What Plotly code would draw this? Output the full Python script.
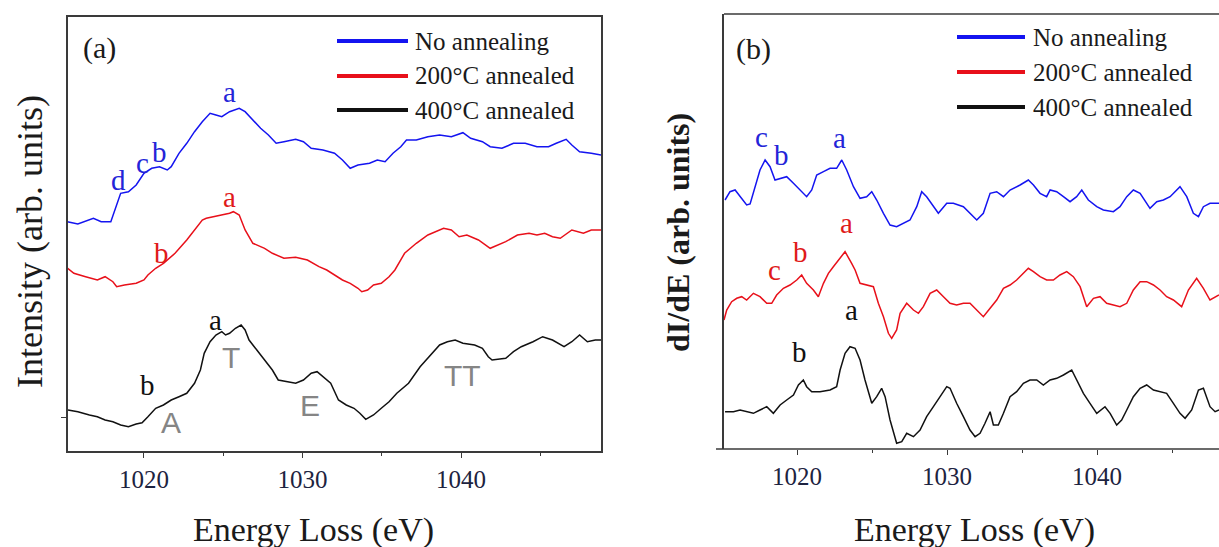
import plotly.graph_objects as go

# ---------------- Panel (a): EELS intensity ----------------
a_blue_E = [1015.17, 1015.83, 1016.81, 1017.30, 1017.91, 1018.53, 1019.02, 1019.51, 1020.0, 1020.49,
            1020.98, 1021.47, 1021.72, 1022.21, 1022.70, 1023.19, 1023.68, 1024.17, 1024.54, 1024.91,
            1025.40, 1026.01, 1026.38, 1026.87, 1027.36, 1027.85, 1028.34, 1028.83, 1029.57, 1030.06,
            1030.55, 1031.29, 1032.02, 1032.52, 1033.01, 1033.50, 1034.23, 1034.72, 1035.21, 1035.71,
            1036.20, 1036.56, 1037.18, 1037.91, 1038.65, 1039.39, 1040.12, 1040.61, 1041.35, 1041.84,
            1042.58, 1043.31, 1044.05, 1044.79, 1045.52, 1046.01, 1046.63, 1046.99, 1047.48, 1048.22, 1048.83]
a_blue_I = [2.293, 2.27, 2.327, 2.293, 2.293, 2.577, 2.593, 2.66, 2.777, 2.827,
            2.843, 2.81, 2.843, 2.977, 3.077, 3.193, 3.293, 3.377, 3.36, 3.343,
            3.393, 3.427, 3.393, 3.31, 3.227, 3.16, 3.077, 3.093, 3.117, 3.093,
            3.027, 3.01, 2.977, 2.91, 2.827, 2.86, 2.877, 2.91, 2.893, 2.977,
            3.043, 3.11, 3.11, 3.143, 3.16, 3.143, 3.183, 3.127, 3.093, 3.043,
            3.027, 3.077, 3.077, 3.043, 3.043, 3.077, 3.117, 3.06, 2.993, 2.977, 2.96]

a_red_E = [1015.17, 1015.58, 1016.32, 1017.06, 1017.55, 1018.04, 1018.28, 1018.77, 1019.51, 1020.0,
           1020.25, 1020.74, 1021.23, 1021.96, 1022.70, 1023.19, 1023.68, 1023.93, 1024.42, 1024.91,
           1025.40, 1025.64, 1026.01, 1026.38, 1026.87, 1027.61, 1028.10, 1028.83, 1029.57, 1030.31,
           1031.04, 1031.53, 1032.02, 1032.52, 1033.01, 1033.50, 1033.74, 1034.11, 1034.48, 1034.97,
           1035.46, 1035.83, 1036.44, 1037.18, 1037.91, 1038.90, 1039.39, 1039.88, 1040.37, 1041.10,
           1041.84, 1042.33, 1042.82, 1043.56, 1044.29, 1044.79, 1045.28, 1045.77, 1046.26, 1046.99,
           1047.72, 1048.22, 1048.83]
a_red_I = [1.83, 1.777, 1.743, 1.71, 1.743, 1.693, 1.643, 1.66, 1.677, 1.71,
           1.76, 1.827, 1.877, 1.977, 2.11, 2.21, 2.31, 2.327, 2.343, 2.36,
           2.377, 2.393, 2.36, 2.21, 2.077, 2.027, 1.977, 1.927, 1.937, 1.91,
           1.843, 1.81, 1.76, 1.71, 1.677, 1.627, 1.593, 1.61, 1.66, 1.677,
           1.743, 1.81, 1.977, 2.077, 2.16, 2.227, 2.21, 2.143, 2.16, 2.11,
           2.027, 2.06, 2.093, 2.16, 2.177, 2.16, 2.177, 2.143, 2.127, 2.21,
           2.177, 2.21, 2.21]

a_black_E = [1015.21, 1015.83, 1016.56, 1017.06, 1017.55, 1018.04, 1018.53, 1019.02, 1019.51, 1019.88,
             1020.25, 1020.74, 1021.23, 1021.72, 1022.21, 1022.70, 1023.19, 1023.56, 1023.80, 1024.17,
             1024.54, 1024.91, 1025.15, 1025.40, 1025.77, 1026.13, 1026.38, 1026.63, 1027.12, 1027.61,
             1028.10, 1028.47, 1028.96, 1029.57, 1030.06, 1030.55, 1030.92, 1031.29, 1031.78, 1032.27,
             1032.76, 1033.25, 1033.62, 1033.99, 1034.48, 1034.97, 1035.46, 1035.95, 1036.69, 1037.42,
             1038.16, 1038.65, 1039.14, 1039.63, 1040.12, 1040.86, 1041.35, 1041.72, 1041.96, 1042.45,
             1042.82, 1043.31, 1043.80, 1044.54, 1045.15, 1045.77, 1046.50, 1046.99, 1047.48, 1047.97,
             1048.47, 1048.83]
a_black_I = [0.41, 0.393, 0.36, 0.343, 0.31, 0.293, 0.26, 0.243, 0.27, 0.283,
             0.343, 0.427, 0.46, 0.51, 0.543, 0.577, 0.677, 0.81, 0.977, 1.093,
             1.16, 1.193, 1.16, 1.177, 1.227, 1.26, 1.21, 1.11, 1.01, 0.91,
             0.81, 0.71, 0.693, 0.677, 0.71, 0.777, 0.793, 0.743, 0.677, 0.51,
             0.46, 0.427, 0.377, 0.317, 0.36, 0.427, 0.493, 0.577, 0.677, 0.843,
             0.977, 1.06, 1.093, 1.11, 1.077, 1.06, 1.027, 0.943, 0.91, 0.917,
             0.927, 0.993, 1.043, 1.093, 1.143, 1.11, 1.043, 1.093, 1.16, 1.093,
             1.11, 1.11]

# ---------------- Panel (b): derivative dI/dE ----------------
b_blue_E = [1015.2, 1015.53, 1015.87, 1016.2, 1016.64, 1016.87, 1017.2, 1017.53, 1017.87, 1018.2,
            1018.53, 1018.87, 1019.31, 1019.76, 1020.2, 1020.64, 1020.98, 1021.31, 1021.76, 1022.2,
            1022.64, 1022.98, 1023.31, 1023.76, 1024.2, 1024.64, 1024.98, 1025.31, 1025.76, 1026.2,
            1026.64, 1027.09, 1027.53, 1027.98, 1028.31, 1028.64, 1029.09, 1029.42, 1029.98, 1030.42,
            1031.09, 1031.53, 1031.98, 1032.42, 1032.87, 1033.31, 1033.76, 1034.2, 1034.87, 1035.42,
            1035.76, 1036.2, 1036.64, 1036.87, 1037.31, 1037.76, 1038.2, 1038.64, 1038.98, 1039.42,
            1039.98, 1040.42, 1041.09, 1041.53, 1041.98, 1042.42, 1042.87, 1043.53, 1043.98, 1044.42,
            1044.87, 1045.53, 1045.98, 1046.42, 1046.76, 1047.09, 1047.53, 1048.13]
b_blue_D = [2.49, 2.573, 2.59, 2.523, 2.44, 2.45, 2.623, 2.79, 2.89, 2.823,
            2.69, 2.707, 2.723, 2.657, 2.59, 2.523, 2.59, 2.74, 2.773, 2.807,
            2.807, 2.89, 2.79, 2.623, 2.507, 2.523, 2.573, 2.49, 2.357, 2.24,
            2.223, 2.257, 2.29, 2.423, 2.573, 2.523, 2.423, 2.357, 2.457, 2.457,
            2.423, 2.357, 2.29, 2.357, 2.557, 2.573, 2.523, 2.59, 2.64, 2.69,
            2.64, 2.557, 2.523, 2.59, 2.573, 2.523, 2.473, 2.523, 2.59, 2.49,
            2.423, 2.39, 2.373, 2.423, 2.523, 2.59, 2.557, 2.407, 2.473, 2.49,
            2.523, 2.623, 2.523, 2.357, 2.323, 2.423, 2.457, 2.457]

b_red_E = [1015.13, 1015.31, 1015.64, 1015.98, 1016.31, 1016.64, 1017.09, 1017.53, 1017.98, 1018.31,
           1018.64, 1019.09, 1019.53, 1019.98, 1020.31, 1020.64, 1021.09, 1021.42, 1021.76, 1022.09,
           1022.42, 1022.76, 1023.2, 1023.64, 1023.87, 1024.2, 1024.64, 1025.09, 1025.42, 1025.76,
           1026.09, 1026.31, 1026.64, 1026.87, 1027.31, 1027.76, 1028.09, 1028.42, 1028.87, 1029.31,
           1029.76, 1030.2, 1030.64, 1031.09, 1031.53, 1031.98, 1032.42, 1032.87, 1033.31, 1033.76,
           1034.2, 1034.64, 1035.09, 1035.42, 1035.76, 1036.2, 1036.64, 1037.09, 1037.53, 1037.98,
           1038.42, 1038.87, 1039.31, 1039.76, 1040.2, 1040.64, 1041.09, 1041.53, 1041.98, 1042.42,
           1042.87, 1043.31, 1043.76, 1044.2, 1044.64, 1045.09, 1045.64, 1046.09, 1046.64, 1047.09,
           1047.53, 1048.13]
b_red_D = [1.29, 1.39, 1.473, 1.507, 1.523, 1.49, 1.557, 1.523, 1.457, 1.457,
           1.54, 1.607, 1.64, 1.69, 1.74, 1.657, 1.59, 1.523, 1.657, 1.757,
           1.823, 1.89, 1.973, 1.857, 1.79, 1.657, 1.64, 1.623, 1.457, 1.323,
           1.157, 1.107, 1.19, 1.357, 1.457, 1.39, 1.357, 1.423, 1.557, 1.59,
           1.523, 1.457, 1.44, 1.457, 1.457, 1.39, 1.323, 1.407, 1.49, 1.607,
           1.64, 1.69, 1.757, 1.807, 1.773, 1.723, 1.69, 1.69, 1.74, 1.773,
           1.723, 1.623, 1.423, 1.507, 1.523, 1.457, 1.44, 1.423, 1.457, 1.59,
           1.673, 1.673, 1.64, 1.59, 1.523, 1.49, 1.423, 1.59, 1.707, 1.607,
           1.49, 1.54]

b_black_E = [1015.2, 1015.76, 1016.2, 1016.64, 1017.09, 1017.53, 1017.98, 1018.42, 1018.87, 1019.31,
             1019.76, 1020.09, 1020.42, 1020.64, 1020.98, 1021.53, 1022.2, 1022.64, 1022.87, 1023.2,
             1023.53, 1023.87, 1024.2, 1024.53, 1024.98, 1025.31, 1025.64, 1025.87, 1026.2, 1026.64,
             1026.98, 1027.31, 1027.76, 1028.2, 1028.64, 1029.09, 1029.53, 1029.98, 1030.2, 1030.64,
             1031.09, 1031.53, 1031.87, 1032.2, 1032.53, 1032.87, 1033.09, 1033.42, 1033.76, 1034.2,
             1034.64, 1035.09, 1035.53, 1035.98, 1036.42, 1036.87, 1037.31, 1037.76, 1038.31, 1038.64,
             1039.09, 1039.53, 1039.98, 1040.53, 1040.87, 1041.31, 1041.64, 1041.98, 1042.42, 1042.87,
             1043.31, 1043.76, 1044.2, 1044.64, 1045.09, 1045.53, 1045.87, 1046.31, 1046.76, 1047.09,
             1047.53, 1047.87, 1048.13]
b_black_D = [0.373, 0.373, 0.39, 0.373, 0.357, 0.39, 0.423, 0.357, 0.44, 0.49,
             0.54, 0.64, 0.69, 0.623, 0.573, 0.573, 0.59, 0.623, 0.79, 0.957,
             1.023, 1.007, 0.89, 0.69, 0.457, 0.523, 0.607, 0.523, 0.29, 0.057,
             0.073, 0.157, 0.123, 0.19, 0.323, 0.423, 0.523, 0.623, 0.607, 0.457,
             0.323, 0.19, 0.123, 0.157, 0.257, 0.373, 0.24, 0.24, 0.357, 0.523,
             0.573, 0.657, 0.69, 0.69, 0.64, 0.69, 0.707, 0.74, 0.79, 0.69,
             0.557, 0.457, 0.357, 0.423, 0.357, 0.24, 0.29, 0.39, 0.523, 0.607,
             0.64, 0.59, 0.573, 0.557, 0.457, 0.357, 0.307, 0.39, 0.59, 0.607,
             0.423, 0.373, 0.39]

series_names = ["No annealing", "200°C annealed", "400°C annealed"]
line_colors = ["#1414f0", "#e8101a", "#111111"]
text_colors = ["#2424d8", "#e01a1a", "#111111"]
gray = "#858585"
axis_col = "#3a3a3a"
tick_col = "#1d2340"
SERIF = "Liberation Serif"
SANS = "Liberation Sans"

# peak labels: (text, energy, value, colour index)
a_labels = [("a", 1025.4, 3.59, 0), ("d", 1018.4, 2.71, 0), ("c", 1019.9, 2.88, 0), ("b", 1021.0, 2.99, 0),
            ("a", 1025.4, 2.54, 1), ("b", 1021.1, 1.98, 1),
            ("a", 1024.5, 1.31, 2), ("b", 1020.2, 0.66, 2)]
a_gray_labels = [("T", 1025.5, 0.94), ("A", 1021.7, 0.29), ("E", 1030.5, 0.46), ("TT", 1040.1, 0.76)]
b_labels = [("c", 1017.65, 3.12, 0), ("b", 1018.98, 2.94, 0), ("a", 1022.82, 3.11, 0),
            ("a", 1023.31, 2.26, 1), ("b", 1020.2, 1.97, 1), ("c", 1018.5, 1.79, 1),
            ("a", 1023.64, 1.39, 2), ("b", 1020.15, 0.97, 2)]

W, H = 1219, 547
def px(x):
    return x / W
def py(y):
    return 1 - y / H

fig = go.Figure()
for E, I, c, n in [(a_blue_E, a_blue_I, line_colors[0], series_names[0]),
                   (a_red_E, a_red_I, line_colors[1], series_names[1]),
                   (a_black_E, a_black_I, line_colors[2], series_names[2])]:
    fig.add_trace(go.Scatter(x=E, y=I, mode="lines", name=n, line=dict(color=c, width=1.5),
                             xaxis="x", yaxis="y", showlegend=False))
for E, D, c, n in [(b_blue_E, b_blue_D, line_colors[0], series_names[0]),
                   (b_red_E, b_red_D, line_colors[1], series_names[1]),
                   (b_black_E, b_black_D, line_colors[2], series_names[2])]:
    fig.add_trace(go.Scatter(x=E, y=D, mode="lines", name=n, line=dict(color=c, width=1.5),
                             xaxis="x2", yaxis="y2", showlegend=False))

xcommon = dict(tickvals=[1020, 1030, 1040], ticks="outside", ticklen=5, tickwidth=1.3,
               tickcolor=axis_col, showgrid=False, zeroline=False,
               tickfont=dict(family=SERIF, size=25, color=tick_col),
               minor=dict(ticks="outside", dtick=5, tick0=1020, ticklen=3, tickwidth=1.3,
                          tickcolor=axis_col, showgrid=False))

fig.update_layout(
    width=W, height=H, margin=dict(l=0, r=0, t=0, b=0),
    paper_bgcolor="white", plot_bgcolor="white", showlegend=False,
    xaxis=dict(domain=[px(67.7), px(601)], range=[1015.19, 1048.83], anchor="y",
               showline=True, linecolor=axis_col, linewidth=1.6, mirror=True, **xcommon),
    yaxis=dict(domain=[py(451), py(17.3)], range=[0, 4.337], anchor="x",
               showline=True, linecolor=axis_col, linewidth=1.6, mirror=True,
               tickvals=[0.34], ticks="outside", ticklen=5, tickcolor=axis_col,
               showticklabels=False, showgrid=False, zeroline=False),
    xaxis2=dict(domain=[px(724), 1.0], range=[1015.13, 1048.13], anchor="y2",
                showline=False, **xcommon),
    yaxis2=dict(domain=[py(449), py(14)], range=[0, 4.35], anchor="x2",
                showline=True, linecolor=axis_col, linewidth=1.6, mirror=False,
                ticks="", showticklabels=False, showgrid=False, zeroline=False),
)

shapes = [
    # panel (b) top border and extended bottom axis line
    dict(type="line", xref="x2 domain", yref="y2 domain", x0=0, x1=1, y0=1, y1=1,
         line=dict(color=axis_col, width=1.6)),
    dict(type="line", xref="paper", yref="y2 domain", x0=px(716), x1=1, y0=0, y1=0,
         line=dict(color=axis_col, width=1.6)),
]
annotations = []

def note(x, y, text, size, family=SERIF, color="#1a1a1a", angle=0, xanchor="center"):
    annotations.append(dict(x=px(x), y=py(y), xref="paper", yref="paper", text=text,
                            showarrow=False, xanchor=xanchor, yanchor="middle", textangle=angle,
                            font=dict(family=family, size=size, color=color)))

# legends (drawn as line samples + text)
def legend(x0, x1, xt, ys):
    for i, yy in enumerate(ys):
        shapes.append(dict(type="line", xref="paper", yref="paper", x0=px(x0), x1=px(x1),
                           y0=py(yy), y1=py(yy), line=dict(color=line_colors[i], width=4)))
        note(xt, yy, series_names[i], 25, xanchor="left")
legend(337, 408, 413, [41, 76, 110])
legend(957, 1025, 1031, [37, 72, 107])

# panel labels
note(99.5, 48, "(a)", 30)
note(753, 49, "(b)", 30)

# axis titles
note(313, 530, "Energy Loss (eV)", 34)
note(974, 530, "Energy Loss (eV)", 34)
note(30, 242, "Intensity (arb. units)", 36, angle=-90)
note(678, 233, "<b>dI/dE (arb. units)</b>", 32, angle=-90)

# peak labels
for t, e, v, ci in a_labels:
    annotations.append(dict(x=e, y=v, xref="x", yref="y", text=t, showarrow=False,
                            xanchor="center", yanchor="middle",
                            font=dict(family=SERIF, size=29, color=text_colors[ci])))
for t, e, v in a_gray_labels:
    annotations.append(dict(x=e, y=v, xref="x", yref="y", text=t, showarrow=False,
                            xanchor="center", yanchor="middle",
                            font=dict(family=SANS, size=30, color=gray)))
for t, e, v, ci in b_labels:
    annotations.append(dict(x=e, y=v, xref="x2", yref="y2", text=t, showarrow=False,
                            xanchor="center", yanchor="middle",
                            font=dict(family=SERIF, size=29, color=text_colors[ci])))

fig.update_layout(shapes=shapes, annotations=annotations)
fig.write_html("out.html", config={"displayModeBar": False},
               post_script="document.body.style.margin='0';document.body.style.overflow='hidden';")
